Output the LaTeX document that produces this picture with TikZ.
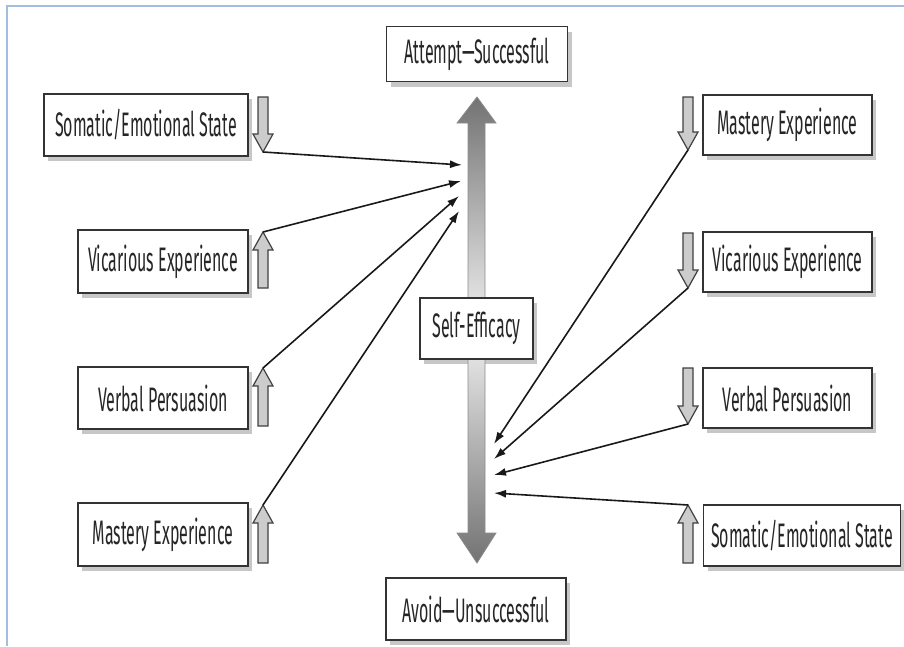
\documentclass[tikz,border=0pt]{standalone}
\usepackage{fontspec}
\setmainfont{Fira Sans}[FakeStretch=0.47]
\usetikzlibrary{arrows.meta}
\definecolor{frameblue}{HTML}{A3BCE0}
\begin{document}
\begin{tikzpicture}[x=1pt,y=-1pt,
  box/.style={draw=black!80, line width=1.7pt, fill=white, rectangle, inner sep=0pt,
    font=\fontsize{34}{34}\selectfont, text=black!85},
  shadowbox/.style={fill=black!22},
  conn/.style={line width=1.6pt, black!90, -{Latex[length=12pt,width=8pt]}},
  small/.style={fill=black!20, draw=black!75, line width=1.2pt}]
\useasboundingbox (0,0) rectangle (904,646);
\draw[frameblue, line width=1.5pt] (7,646) -- (7,6) -- (904,6);

% shadows of the boxes
\fill[shadowbox] (390.5,31.5) rectangle (571.5,86.5);
\fill[shadowbox] (390,583) rectangle (570,645);
\fill[shadowbox] (424,303) rectangle (537,364);
\fill[shadowbox] (48,99) rectangle (252,161);
\fill[shadowbox] (82,235) rectangle (252,298);
\fill[shadowbox] (82,372) rectangle (252,434);
\fill[shadowbox] (82,508) rectangle (252,571);
\fill[shadowbox] (707,100) rectangle (876,160);
\fill[shadowbox] (707,237) rectangle (876,297);
\fill[shadowbox] (707,373) rectangle (876,433);
\fill[shadowbox] (707.5,510) rectangle (904,571);

% central boxes
\node[box, minimum width=181pt, minimum height=55pt] (att) at (477,54) {Attempt—Successful};
\node[box, minimum width=180pt, minimum height=62pt] (avo) at (476,609) {Avoid—Unsuccessful};

% central fat arrow
\shade[top color=black!55, bottom color=black!12, draw=black!45, line width=0.8pt]
  (468,298) -- (468,123) -- (457,123) -- (477,97) -- (496,123) -- (485,123) -- (485,298) -- cycle;
\shade[top color=black!12, bottom color=black!55, draw=black!45, line width=0.8pt]
  (468,359) -- (468,533) -- (457,533) -- (477,563) -- (496,533) -- (485,533) -- (485,359) -- cycle;

\node[box, minimum width=113pt, minimum height=61pt] (se) at (476.5,328.5) {Self-Efficacy};

% left boxes
\node[box, minimum width=204pt, minimum height=62pt] (lsom) at (146,125) {Somatic/Emotional State};
\node[box, minimum width=170pt, minimum height=63pt] (lvic) at (163,261.5) {Vicarious Experience};
\node[box, minimum width=170pt, minimum height=62pt] (lver) at (163,398) {Verbal Persuasion};
\node[box, minimum width=170pt, minimum height=63pt] (lmas) at (163,534.5) {Mastery Experience};

% right boxes
\node[box, minimum width=169pt, minimum height=60pt] (rmas) at (787.5,125) {Mastery Experience};
\node[box, minimum width=169pt, minimum height=60pt] (rvic) at (787.5,262) {Vicarious Experience};
\node[box, minimum width=169pt, minimum height=60pt] (rver) at (787.5,398) {Verbal Persuasion};
\node[box, minimum width=197pt, minimum height=61pt] (rsom) at (802,535.5) {Somatic/Emotional State};

% small block arrows
\draw[small] (258,97) -- (268,97) -- (268,134) -- (273,134) -- (263,152) -- (253,134) -- (258,134) -- cycle;
\draw[small] (258,288) -- (268,288) -- (268,250) -- (273,250) -- (263,232) -- (253,250) -- (258,250) -- cycle;
\draw[small] (258,426) -- (268,426) -- (268,386) -- (273,386) -- (263,368) -- (253,386) -- (258,386) -- cycle;
\draw[small] (258,563) -- (268,563) -- (268,523) -- (273,523) -- (263,505) -- (253,523) -- (258,523) -- cycle;

\draw[small] (683,97) -- (693,97) -- (693,132) -- (698,132) -- (688,150) -- (678,132) -- (683,132) -- cycle;
\draw[small] (683,233) -- (693,233) -- (693,270) -- (698,270) -- (688,288) -- (678,270) -- (683,270) -- cycle;
\draw[small] (683,368) -- (693,368) -- (693,406) -- (698,406) -- (688,424) -- (678,406) -- (683,406) -- cycle;
\draw[small] (683,563) -- (693,563) -- (693,523) -- (698,523) -- (688,505) -- (678,523) -- (683,523) -- cycle;

% connector anchors
\coordinate (lsomt) at (263,152);
\coordinate (lvict) at (263,232);
\coordinate (lvert) at (263,368);
\coordinate (lmast) at (263,505);
\coordinate (rmast) at (688,150);
\coordinate (rvict) at (688,288);
\coordinate (rvert) at (688,424);
\coordinate (rsomt) at (688,505);
\coordinate (inA) at (462,165);
\coordinate (inB) at (461,181);
\coordinate (inC) at (459,196);
\coordinate (inD) at (459,211);
\coordinate (inE) at (494,444);
\coordinate (inF) at (494,459);
\coordinate (inG) at (494,475);
\coordinate (inH) at (494,493);

\draw[conn] (lsomt) -- (inA);
\draw[conn] (lvict) -- (inB);
\draw[conn] (lvert) -- (inC);
\draw[conn] (lmast) -- (inD);
\draw[conn] (rmast) -- (inE);
\draw[conn] (rvict) -- (inF);
\draw[conn] (rvert) -- (inG);
\draw[conn] (rsomt) -- (inH);
\end{tikzpicture}
\end{document}
